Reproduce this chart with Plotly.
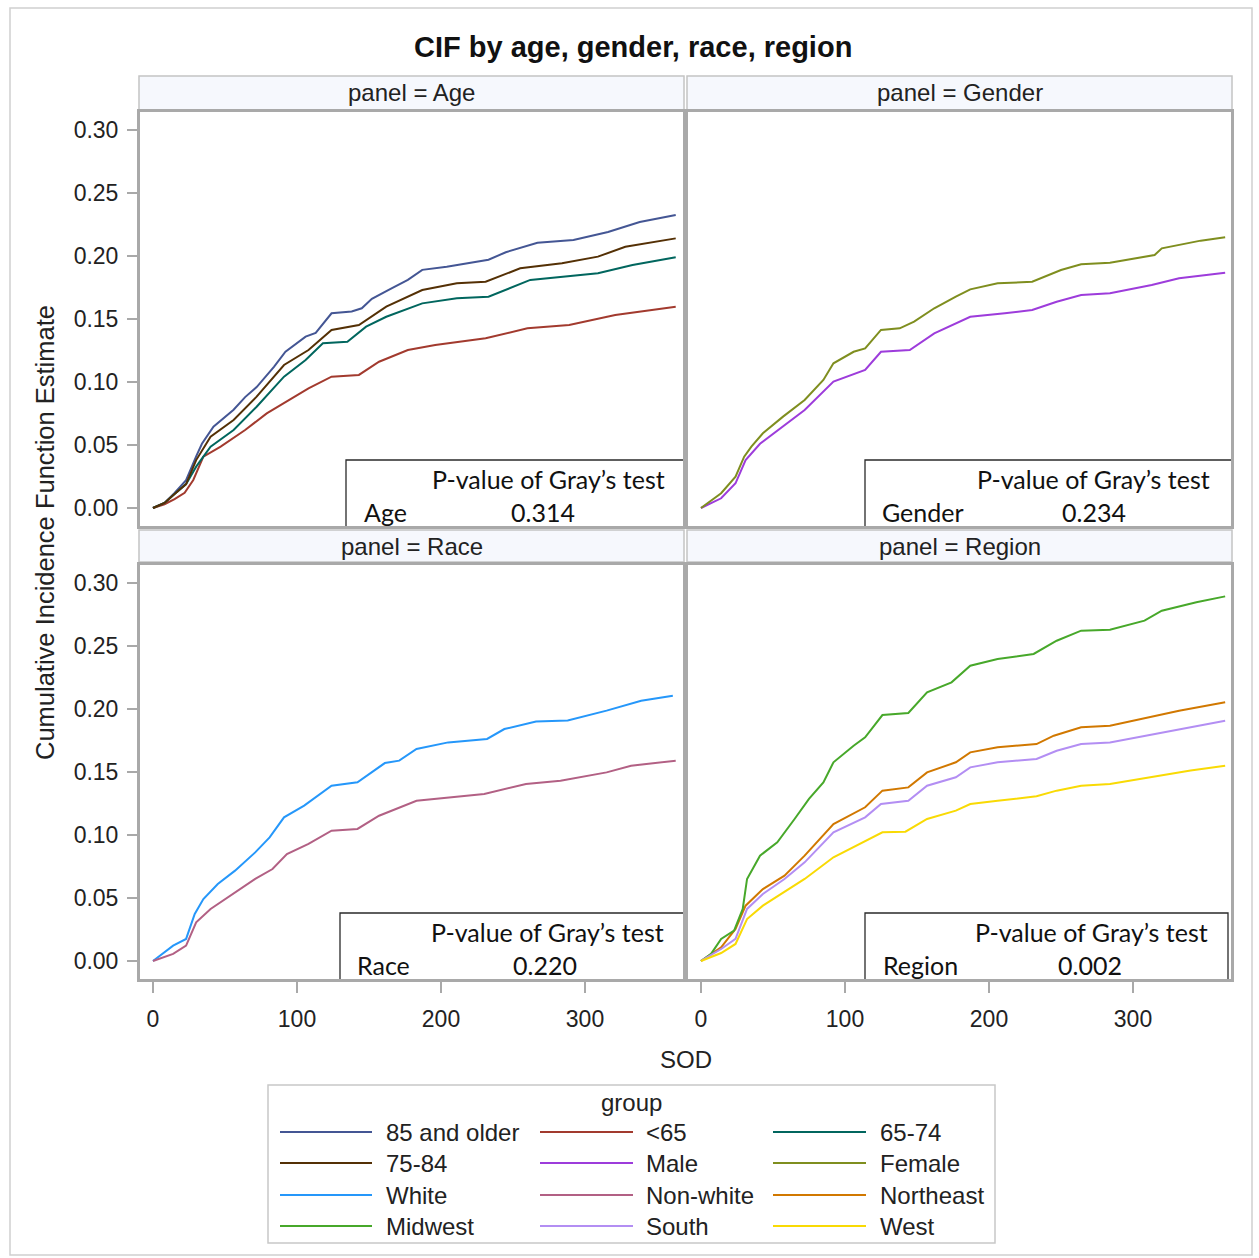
import plotly.graph_objects as go

# ---------------- data ----------------
panels = ["Age", "Gender", "Race", "Region"]
p_values = ["0.314", "0.234", "0.220", "0.002"]

groups = ["85 and older", "<65", "65-74", "75-84", "Male", "Female",
          "White", "Non-white", "Northeast", "Midwest", "South", "West"]
group_panel = ["Age", "Age", "Age", "Age", "Gender", "Gender",
               "Race", "Race", "Region", "Region", "Region", "Region"]
colors = ["#445694", "#A23A2E", "#01665E", "#543005", "#9D3CDB", "#7F8E1F",
          "#2597FA", "#B26084", "#D17800", "#47A82A", "#B38EF3", "#F9DA04"]

days_85 = [0, 8, 15, 23, 30, 34, 42, 56, 64, 72, 84, 92, 106, 113, 124, 138, 145, 152, 165, 177, 187, 204, 233, 245, 267, 292, 316, 338, 363]
cif_85 = [0, 0.004, 0.012, 0.022, 0.041, 0.051, 0.0645, 0.078, 0.088, 0.096, 0.112, 0.124, 0.136, 0.139, 0.1545, 0.156, 0.1585, 0.166, 0.174, 0.181, 0.189, 0.1915, 0.197, 0.203, 0.2105, 0.2127, 0.219, 0.227, 0.2325]

days_lt65 = [0, 8, 15, 22, 28, 35, 47, 64, 79, 94, 108, 124, 143, 157, 177, 196, 231, 260, 289, 321, 363]
cif_lt65 = [0, 0.003, 0.007, 0.012, 0.0222, 0.0407, 0.0487, 0.0619, 0.0751, 0.0857, 0.095, 0.1042, 0.1056, 0.1161, 0.1254, 0.1294, 0.1347, 0.1426, 0.1452, 0.1532, 0.1598]

days_6574 = [0, 8, 15, 23, 30, 40, 56, 72, 91, 106, 118, 135, 148, 162, 187, 211, 233, 262, 309, 333, 363]
cif_6574 = [0, 0.004, 0.011, 0.019, 0.0328, 0.0487, 0.0619, 0.0804, 0.1042, 0.1175, 0.1307, 0.132, 0.1439, 0.1518, 0.1624, 0.1664, 0.1677, 0.181, 0.1863, 0.1929, 0.199]

days_7584 = [0, 8, 15, 23, 30, 40, 56, 72, 91, 108, 124, 143, 162, 187, 211, 231, 255, 284, 309, 328, 363]
cif_7584 = [0, 0.004, 0.011, 0.019, 0.038, 0.0566, 0.0698, 0.0884, 0.1135, 0.1254, 0.1413, 0.1452, 0.1598, 0.173, 0.1783, 0.1796, 0.1902, 0.1942, 0.1995, 0.2074, 0.214]

days_male = [0, 14, 24, 31, 41, 57, 72, 92, 114, 125, 145, 162, 187, 211, 230, 247, 264, 284, 313, 332, 364]
cif_male = [0, 0.0077, 0.0196, 0.038, 0.051, 0.0645, 0.0778, 0.1003, 0.1095, 0.124, 0.1254, 0.1386, 0.1518, 0.1545, 0.1571, 0.1637, 0.169, 0.1704, 0.177, 0.1823, 0.1868]

days_female = [0, 14, 24, 30, 35, 43, 57, 72, 85, 92, 106, 114, 125, 138, 148, 162, 177, 187, 206, 230, 250, 264, 284, 315, 320, 347, 364]
cif_female = [0, 0.0117, 0.0249, 0.0407, 0.0487, 0.0593, 0.0725, 0.0857, 0.1016, 0.1148, 0.124, 0.1267, 0.1413, 0.1426, 0.1479, 0.1585, 0.1677, 0.1735, 0.1783, 0.1796, 0.1889, 0.1934, 0.1947, 0.2008, 0.2061, 0.2122, 0.2148]

days_white = [0, 14, 23, 29, 35, 45, 57, 71, 81, 91, 105, 113, 124, 142, 152, 161, 171, 183, 205, 232, 244, 266, 288, 315, 339, 361]
cif_white = [0, 0.0122, 0.0175, 0.0373, 0.0492, 0.0611, 0.0717, 0.0862, 0.0981, 0.114, 0.1233, 0.1299, 0.1391, 0.1418, 0.1497, 0.1571, 0.159, 0.1683, 0.1735, 0.1762, 0.1841, 0.19, 0.1909, 0.1987, 0.2066, 0.2106]

days_nonwhite = [0, 14, 23, 30, 40, 57, 71, 83, 93, 108, 124, 142, 157, 183, 205, 230, 259, 283, 315, 332, 363]
cif_nonwhite = [0, 0.0056, 0.0122, 0.0307, 0.0413, 0.0545, 0.0651, 0.073, 0.0849, 0.0929, 0.1034, 0.1048, 0.1153, 0.1272, 0.1299, 0.1325, 0.1405, 0.1431, 0.1497, 0.155, 0.159]

days_northeast = [0, 14, 24, 31, 43, 58, 72, 92, 114, 126, 144, 157, 177, 187, 206, 233, 245, 264, 284, 308, 332, 364]
cif_northeast = [0, 0.0108, 0.0254, 0.0439, 0.0571, 0.0677, 0.0836, 0.1087, 0.122, 0.1352, 0.1378, 0.1497, 0.1577, 0.1656, 0.1696, 0.1722, 0.1788, 0.1855, 0.1868, 0.1926, 0.1987, 0.2053]

days_midwest = [0, 7, 14, 23, 29, 32, 41, 53, 65, 75, 85, 92, 106, 114, 126, 144, 157, 174, 187, 206, 231, 247, 264, 284, 308, 320, 344, 364]
cif_midwest = [0, 0.0056, 0.0175, 0.0241, 0.0413, 0.0651, 0.0836, 0.0942, 0.1127, 0.1286, 0.1418, 0.1577, 0.1709, 0.1775, 0.1952, 0.1968, 0.2132, 0.2212, 0.2344, 0.2397, 0.2437, 0.2542, 0.2622, 0.2629, 0.2701, 0.278, 0.2847, 0.2894]

days_south = [0, 14, 24, 32, 43, 58, 72, 92, 114, 125, 144, 157, 177, 187, 206, 233, 247, 264, 284, 308, 332, 364]
cif_south = [0, 0.0095, 0.0175, 0.0413, 0.0532, 0.0651, 0.0783, 0.1021, 0.114, 0.1246, 0.1272, 0.1391, 0.1458, 0.1537, 0.1577, 0.1603, 0.1669, 0.1722, 0.1735, 0.1788, 0.1841, 0.1907]

days_west = [0, 14, 24, 32, 43, 58, 72, 92, 106, 126, 142, 157, 177, 187, 206, 233, 247, 264, 284, 318, 340, 364]
cif_west = [0, 0.0063, 0.0135, 0.0333, 0.0439, 0.0545, 0.0651, 0.0823, 0.0902, 0.1021, 0.1026, 0.1127, 0.1193, 0.1246, 0.1272, 0.1307, 0.1352, 0.1391, 0.1405, 0.1471, 0.1511, 0.155]

series_days = [days_85, days_lt65, days_6574, days_7584, days_male, days_female,
               days_white, days_nonwhite, days_northeast, days_midwest, days_south, days_west]
series_cif = [cif_85, cif_lt65, cif_6574, cif_7584, cif_male, cif_female,
              cif_white, cif_nonwhite, cif_northeast, cif_midwest, cif_south, cif_west]

y_tickvals = [0, 0.05, 0.10, 0.15, 0.20, 0.25, 0.30]
x_tickvals = [0, 100, 200, 300]

# ---------------- layout helpers ----------------
W, H = 1259, 1258
def fx(p): return p / W
def fy(p): return 1 - p / H

TICKFONT = dict(family="Liberation Sans, Arial, sans-serif", size=23, color="#222222")
LABFONT = dict(family="Liberation Sans, Arial, sans-serif", size=24, color="#222222")
INSFONT = dict(family="Lato, Carlito, sans-serif", size=25, color="#111111")
FRAME = "#A9A9A9"

# panel geometry (pixels)
px_cols = [(139, 684), (687, 1232)]
px_rows = [(111, 527), (564, 980)]
strip_rows = [(76, 110), (530, 562)]
strip_text_y = [92, 546]
XR = [-9.7, 368.75]
YR = [-0.0151, 0.3151]

fig = go.Figure()
axis_ids = {"Age": ("x", "y"), "Gender": ("x2", "y2"), "Race": ("x3", "y3"), "Region": ("x4", "y4")}

for name, panel, col, d, c in zip(groups, group_panel, colors, series_days, series_cif):
    xa, ya = axis_ids[panel]
    fig.add_trace(go.Scatter(x=d, y=c, mode="lines", name=name, xaxis=xa, yaxis=ya,
                             line=dict(color=col, width=2), showlegend=False))

layout = dict(width=W, height=H, margin=dict(l=0, r=0, t=0, b=0),
              paper_bgcolor="white", plot_bgcolor="white", showlegend=False)

for i, panel in enumerate(panels):
    r, cidx = divmod(i, 2)
    suffix = "" if i == 0 else str(i + 1)
    xdom = [fx(px_cols[cidx][0]), fx(px_cols[cidx][1])]
    ydom = [fy(px_rows[r][1]), fy(px_rows[r][0])]
    xa = dict(domain=xdom, anchor="y" + suffix, range=XR, showgrid=False, zeroline=False,
              showline=True, mirror=True, linecolor=FRAME, linewidth=2,
              tickvals=x_tickvals, tickfont=TICKFONT)
    if r == 1:
        xa.update(ticks="outside", ticklen=11, tickcolor=FRAME, tickwidth=1.5,
                  showticklabels=True, ticklabelstandoff=6)
    else:
        xa.update(ticks="", showticklabels=False)
    ya = dict(domain=ydom, anchor="x" + suffix, range=YR, showgrid=False, zeroline=False,
              showline=True, mirror=True, linecolor=FRAME, linewidth=2,
              tickvals=y_tickvals, ticktext=[f"{v:.2f}" for v in y_tickvals], tickfont=TICKFONT)
    if cidx == 0:
        ya.update(ticks="outside", ticklen=10, tickcolor=FRAME, tickwidth=1.5,
                  showticklabels=True, ticklabelstandoff=4)
    else:
        ya.update(ticks="", showticklabels=False)
    layout["xaxis" + suffix] = xa
    layout["yaxis" + suffix] = ya

shapes = []
annotations = []

# page border
shapes.append(dict(type="rect", xref="paper", yref="paper", x0=fx(10), x1=fx(1252), y0=fy(1255), y1=fy(8),
                   line=dict(color="#D0D0D0", width=1.5), fillcolor="rgba(0,0,0,0)", layer="below"))

# strips
for i, panel in enumerate(panels):
    r, cidx = divmod(i, 2)
    x0, x1 = px_cols[cidx]
    y0, y1 = strip_rows[r]
    shapes.append(dict(type="rect", xref="paper", yref="paper", x0=fx(x0), x1=fx(x1), y0=fy(y1), y1=fy(y0),
                       line=dict(color="#C4C4C4", width=1.5), fillcolor="#F6F8FD", layer="below"))
    annotations.append(dict(text=f"panel = {panel}", x=fx((x0 + x1) / 2), y=fy(strip_text_y[r]),
                            xref="paper", yref="paper", showarrow=False, xanchor="center", yanchor="middle",
                            font=LABFONT))

# inset p-value boxes
inset_boxes = [(346, 684, 460, 527), (865, 1232, 460, 527), (340, 684, 913, 980), (865, 1228, 913, 980)]
inset_head_x = [667, 1212, 666, 1210]
inset_name_x = [362, 880, 355, 881]
inset_val_x = [543, 1094, 545, 1090]
for i, panel in enumerate(panels):
    bx0, bx1, by0, by1 = inset_boxes[i]
    shapes.append(dict(type="rect", xref="paper", yref="paper", x0=fx(bx0), x1=fx(bx1), y0=fy(by1), y1=fy(by0),
                       line=dict(color="#2A2A2A", width=1.3), fillcolor="white", layer="above"))
    annotations.append(dict(text="P-value of Gray’s test", x=fx(inset_head_x[i]), y=fy(by0 + 19),
                            xref="paper", yref="paper", showarrow=False, xanchor="right", yanchor="middle",
                            font=INSFONT))
    annotations.append(dict(text=panel, x=fx(inset_name_x[i]), y=fy(by0 + 52),
                            xref="paper", yref="paper", showarrow=False, xanchor="left", yanchor="middle",
                            font=INSFONT))
    annotations.append(dict(text=p_values[i], x=fx(inset_val_x[i]), y=fy(by0 + 52),
                            xref="paper", yref="paper", showarrow=False, xanchor="center", yanchor="middle",
                            font=INSFONT))

# panel frames redrawn on top
for r in range(2):
    for cidx in range(2):
        x0, x1 = px_cols[cidx]
        y0, y1 = px_rows[r]
        shapes.append(dict(type="rect", xref="paper", yref="paper", x0=fx(x0), x1=fx(x1), y0=fy(y1), y1=fy(y0),
                           line=dict(color=FRAME, width=2), fillcolor="rgba(0,0,0,0)", layer="above"))

# title and axis titles
annotations.append(dict(text="<b>CIF by age, gender, race, region</b>", x=fx(633), y=fy(47),
                        xref="paper", yref="paper", showarrow=False, xanchor="center", yanchor="middle",
                        font=dict(family="Liberation Sans, Arial, sans-serif", size=29, color="#111111")))
annotations.append(dict(text="Cumulative Incidence Function Estimate", x=fx(45), y=fy(533), textangle=-90,
                        xref="paper", yref="paper", showarrow=False, xanchor="center", yanchor="middle",
                        font=dict(family="Liberation Sans, Arial, sans-serif", size=25.5, color="#222222")))
annotations.append(dict(text="SOD", x=fx(686), y=fy(1059),
                        xref="paper", yref="paper", showarrow=False, xanchor="center", yanchor="middle",
                        font=LABFONT))

# manual legend
shapes.append(dict(type="rect", xref="paper", yref="paper", x0=fx(268), x1=fx(995), y0=fy(1243), y1=fy(1085),
                   line=dict(color="#C8C8C8", width=1.5), fillcolor="white"))
annotations.append(dict(text="group", x=fx(631), y=fy(1102), xref="paper", yref="paper", showarrow=False,
                        xanchor="center", yanchor="middle", font=LABFONT))
leg_rows = [1132, 1163, 1195, 1226]
leg_line_x = [(280, 372), (540, 633), (773, 866)]
leg_text_x = [384, 644, 878]
for k, (name, col) in enumerate(zip(groups, colors)):
    r, cidx = divmod(k, 3)
    yy = leg_rows[r]
    lx0, lx1 = leg_line_x[cidx]
    shapes.append(dict(type="line", xref="paper", yref="paper", x0=fx(lx0), x1=fx(lx1), y0=fy(yy), y1=fy(yy),
                       line=dict(color=col, width=2)))
    annotations.append(dict(text=name.replace("<", "&lt;"), x=fx(leg_text_x[cidx]), y=fy(yy), xref="paper", yref="paper",
                            showarrow=False, xanchor="left", yanchor="middle", font=LABFONT))

layout["shapes"] = shapes
layout["annotations"] = annotations
fig.update_layout(**layout)
fig.write_html("out.html", config={"displayModeBar": False},
               post_script="document.body.style.margin='0';document.body.style.overflow='hidden';")
